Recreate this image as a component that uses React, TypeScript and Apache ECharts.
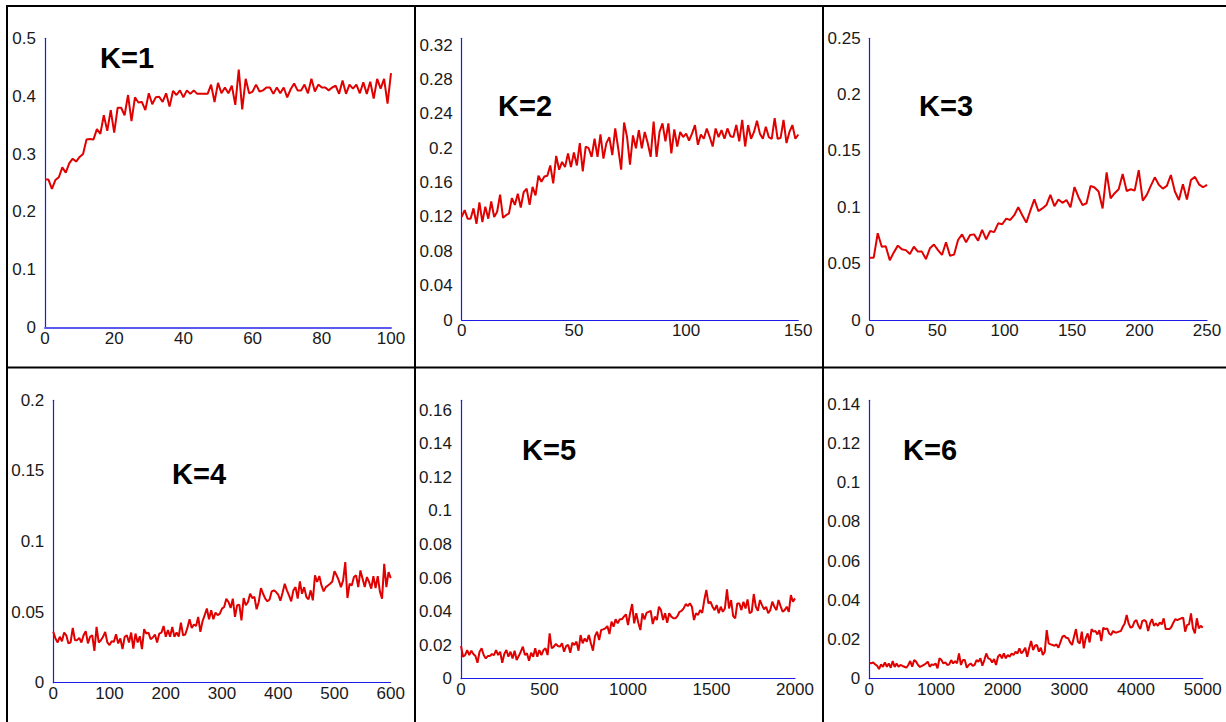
import React, { useEffect, useRef } from "react";
import * as echarts from "echarts";

// ---------- data ----------
const titles = ["K=1", "K=2", "K=3", "K=4", "K=5", "K=6"];
const xMaxes = [100, 150, 250, 600, 2000, 5000];
const xIntervals = [20, 50, 50, 100, 500, 1000];
const yMaxes = [0.5, 0.328, 0.25, 0.2, 0.166, 0.142];
const yIntervals = [0.1, 0.04, 0.05, 0.05, 0.02, 0.02];

const k1Values = [
  0.256, 0.256, 0.24, 0.255, 0.26, 0.277, 0.268, 0.284, 0.292, 0.287, 0.295,
  0.3, 0.325, 0.326, 0.325, 0.343, 0.335, 0.367, 0.34, 0.376, 0.337, 0.38,
  0.38, 0.367, 0.402, 0.357, 0.398, 0.389, 0.39, 0.376, 0.405, 0.386, 0.398,
  0.399, 0.39, 0.405, 0.382, 0.409, 0.402, 0.41, 0.398, 0.41, 0.404, 0.41,
  0.404, 0.404, 0.404, 0.404, 0.42, 0.39, 0.423, 0.405, 0.415, 0.405, 0.418,
  0.385, 0.446, 0.377, 0.43, 0.405, 0.408, 0.42, 0.408, 0.41, 0.415, 0.415,
  0.404, 0.415, 0.405, 0.415, 0.398, 0.412, 0.422, 0.41, 0.41, 0.42, 0.405,
  0.43, 0.408, 0.42, 0.415, 0.415, 0.41, 0.415, 0.418, 0.404, 0.427, 0.404,
  0.42, 0.413, 0.42, 0.405, 0.424, 0.404, 0.425, 0.396, 0.43, 0.413, 0.43,
  0.387, 0.44,
];

const k2Values = [
  0.12, 0.128, 0.118, 0.118, 0.13, 0.112, 0.137, 0.114, 0.132, 0.118, 0.138,
  0.12, 0.126, 0.146, 0.119, 0.122, 0.124, 0.142, 0.134, 0.147, 0.131, 0.149,
  0.153, 0.134, 0.155, 0.145, 0.168, 0.161, 0.167, 0.168, 0.18, 0.159, 0.191,
  0.175, 0.184, 0.178, 0.194, 0.178, 0.195, 0.18, 0.206, 0.173, 0.202, 0.2,
  0.19, 0.211, 0.19, 0.216, 0.188, 0.206, 0.213, 0.192, 0.223, 0.2, 0.175,
  0.23, 0.213, 0.181, 0.215, 0.2, 0.221, 0.2, 0.219, 0.206, 0.19, 0.231, 0.19,
  0.219, 0.229, 0.208, 0.229, 0.194, 0.222, 0.202, 0.219, 0.213, 0.217, 0.209,
  0.217, 0.227, 0.204, 0.216, 0.211, 0.223, 0.213, 0.202, 0.223, 0.213, 0.221,
  0.211, 0.223, 0.214, 0.213, 0.227, 0.208, 0.233, 0.202, 0.227, 0.211, 0.219,
  0.232, 0.217, 0.211, 0.225, 0.213, 0.211, 0.235, 0.211, 0.212, 0.233, 0.206,
  0.219, 0.227, 0.211, 0.216,
];

const k3Values = [
  0.0553, 0.0553, 0.077, 0.065, 0.0655, 0.053, 0.06, 0.066, 0.0627, 0.062,
  0.0586, 0.065, 0.0607, 0.0607, 0.054, 0.0636, 0.067, 0.062, 0.0577, 0.069,
  0.057, 0.058, 0.071, 0.076, 0.069, 0.0754, 0.076, 0.0704, 0.08, 0.0716,
  0.079, 0.078, 0.0858, 0.085, 0.09, 0.0888, 0.093, 0.1, 0.093, 0.0864, 0.097,
  0.107, 0.0967, 0.099, 0.102, 0.111, 0.101, 0.107, 0.104, 0.1065, 0.1, 0.118,
  0.109, 0.102, 0.1036, 0.119, 0.1176, 0.114, 0.099, 0.131, 0.108, 0.1125,
  0.116, 0.1296, 0.1145, 0.116, 0.115, 0.133, 0.106, 0.111, 0.119, 0.1266,
  0.12, 0.1166, 0.119, 0.1287, 0.114, 0.1065, 0.1204, 0.107, 0.1243, 0.127,
  0.1204, 0.1178, 0.12,
];

const k4Values = [
  0.036, 0.0313, 0.0285, 0.0325, 0.0294, 0.0355, 0.0336, 0.0278, 0.0285,
  0.0388, 0.0301, 0.0301, 0.0318, 0.0285, 0.0336, 0.0365, 0.0278, 0.0325,
  0.0336, 0.0226, 0.0395, 0.0285, 0.0301, 0.0325, 0.036, 0.0285, 0.0266,
  0.0294, 0.0289, 0.0343, 0.0278, 0.0313, 0.0238, 0.0325, 0.0336, 0.0285,
  0.0355, 0.0242, 0.0348, 0.0285, 0.0329, 0.0238, 0.0379, 0.0348, 0.0355,
  0.0308, 0.032, 0.0341, 0.0285, 0.0348, 0.0355, 0.0402, 0.0325, 0.0372,
  0.0325, 0.0395, 0.0325, 0.0355, 0.0327, 0.0426, 0.0336, 0.0341, 0.0388,
  0.0449, 0.0388, 0.0412, 0.0402, 0.0466, 0.036, 0.0435, 0.0478, 0.0525,
  0.0449, 0.0513, 0.0449, 0.0496, 0.0478, 0.0489, 0.0525, 0.0536, 0.0595,
  0.0572, 0.0529, 0.0595, 0.0466, 0.0548, 0.0553, 0.0442, 0.06, 0.0548,
  0.0572, 0.063, 0.06, 0.0607, 0.052, 0.0572, 0.067, 0.063, 0.0595, 0.0576,
  0.059, 0.0647, 0.0654, 0.0642, 0.0623, 0.0581, 0.0637, 0.0701, 0.0654,
  0.0619, 0.0576, 0.0654, 0.0677, 0.0595, 0.0717, 0.063, 0.0677, 0.0607,
  0.059, 0.0654, 0.0583, 0.076, 0.0713, 0.0755, 0.0689, 0.0647, 0.0677,
  0.0689, 0.0701, 0.0717, 0.079, 0.076, 0.0725, 0.0677, 0.0725, 0.0854, 0.06,
  0.0701, 0.0689, 0.0748, 0.076, 0.0677, 0.0795, 0.0736, 0.0677, 0.0748,
  0.0713, 0.0666, 0.0755, 0.067, 0.0755, 0.0647, 0.0595, 0.0842, 0.0677,
  0.0783, 0.0741,
];

const k5Values = [
  0.0195, 0.0131, 0.0141, 0.0171, 0.0141, 0.0167, 0.0147, 0.0135, 0.0095,
  0.0161, 0.0181, 0.0141, 0.0121, 0.0135, 0.0135, 0.0147, 0.0141, 0.0171,
  0.0141, 0.0161, 0.0095, 0.0147, 0.0171, 0.0131, 0.0161, 0.0121, 0.0167,
  0.0111, 0.0135, 0.0161, 0.0191, 0.0141, 0.0151, 0.0107, 0.0155, 0.0131,
  0.0181, 0.0131, 0.0171, 0.0141, 0.0171, 0.0181, 0.0141, 0.027, 0.0181,
  0.0191, 0.0207, 0.0195, 0.0191, 0.0211, 0.0161, 0.0195, 0.0201, 0.0155,
  0.0215, 0.0201, 0.0221, 0.0167, 0.026, 0.0211, 0.024, 0.0221, 0.026, 0.0211,
  0.0167, 0.0254, 0.028, 0.0231, 0.029, 0.0294, 0.03, 0.0314, 0.0266, 0.034,
  0.031, 0.0354, 0.033, 0.0354, 0.0354, 0.037, 0.0384, 0.032, 0.039, 0.0445,
  0.033, 0.039, 0.0334, 0.029, 0.039, 0.0354, 0.0393, 0.0399, 0.0405, 0.0326,
  0.037, 0.035, 0.0429, 0.0409, 0.035, 0.039, 0.0334, 0.039, 0.037, 0.036,
  0.036, 0.0374, 0.0399, 0.0405, 0.0419, 0.0445, 0.0433, 0.0449, 0.0429, 0.035,
  0.039, 0.038, 0.0409, 0.0393, 0.0469, 0.0529, 0.0449, 0.0459, 0.0429,
  0.0409, 0.0439, 0.039, 0.0429, 0.0399, 0.0419, 0.0533, 0.0419, 0.0469,
  0.0374, 0.036, 0.0449, 0.0449, 0.0409, 0.0459, 0.0419, 0.0473, 0.039,
  0.0399, 0.0505, 0.0429, 0.0405, 0.0469, 0.0439, 0.0413, 0.0429, 0.039,
  0.0409, 0.0459, 0.0429, 0.0409, 0.0469, 0.0433, 0.0399, 0.0409, 0.0429,
  0.0399, 0.0499, 0.0459, 0.0479,
];

const k6Values = [
  0.0082, 0.0078, 0.0083, 0.0073, 0.0066, 0.0049, 0.0073, 0.0061, 0.0083,
  0.0061, 0.0078, 0.0056, 0.009, 0.006, 0.0078, 0.0061, 0.007, 0.0065, 0.0061,
  0.0056, 0.007, 0.009, 0.0061, 0.0095, 0.0087, 0.007, 0.006, 0.0065, 0.007,
  0.0078, 0.0087, 0.0061, 0.0073, 0.007, 0.0078, 0.0053, 0.0104, 0.0095,
  0.0078, 0.0083, 0.007, 0.0073, 0.0095, 0.0078, 0.009, 0.0078, 0.0129, 0.007,
  0.0095, 0.0095, 0.0056, 0.007, 0.0078, 0.0066, 0.007, 0.0095, 0.0087,
  0.0104, 0.0066, 0.0095, 0.0129, 0.0104, 0.01, 0.0083, 0.01, 0.007, 0.0112,
  0.0124, 0.0104, 0.0129, 0.0104, 0.0121, 0.0112, 0.0129, 0.0121, 0.0138,
  0.0129, 0.0155, 0.0129, 0.0141, 0.0158, 0.0112, 0.0155, 0.0192, 0.0146,
  0.0168, 0.0172, 0.0138, 0.0158, 0.0121, 0.0138, 0.0248, 0.018, 0.0175,
  0.0172, 0.0168, 0.0175, 0.0158, 0.0185, 0.0214, 0.0219, 0.0209, 0.0206,
  0.0185, 0.0172, 0.0214, 0.0253, 0.0189, 0.018, 0.024, 0.0155, 0.0206,
  0.0231, 0.0185, 0.0253, 0.024, 0.0243, 0.0226, 0.0248, 0.0192, 0.026,
  0.0253, 0.0257, 0.0231, 0.0223, 0.0243, 0.0236, 0.0236, 0.024, 0.0243,
  0.0265, 0.0282, 0.0325, 0.0282, 0.026, 0.0265, 0.0291, 0.0299, 0.027,
  0.0253, 0.0294, 0.0299, 0.0291, 0.0243, 0.0282, 0.0304, 0.027, 0.0282,
  0.027, 0.0287, 0.0277, 0.0308, 0.0253, 0.0253, 0.0253, 0.0265, 0.0287,
  0.0304, 0.0299, 0.0304, 0.0308, 0.0311, 0.024, 0.0274, 0.0277, 0.0333,
  0.0257, 0.0231, 0.0308, 0.0257, 0.027, 0.026,
];

const seriesValues = [k1Values, k2Values, k3Values, k4Values, k5Values, k6Values];

// ---------- layout (page pixels) ----------
const gridBoxes = [
  { left: 45, top: 38.3, width: 346, height: 289.4 },
  { left: 461.7, top: 38.3, width: 336.6, height: 281.7 },
  { left: 869.7, top: 38.3, width: 337.3, height: 281.7 },
  { left: 53.3, top: 400.3, width: 337.4, height: 282.4 },
  { left: 461, top: 400.3, width: 334, height: 278.4 },
  { left: 869.3, top: 400.3, width: 333.4, height: 278.4 },
];
const titlePos = [
  [100, 58],
  [498, 106],
  [919, 106],
  [172, 474],
  [522, 450],
  [903, 450],
];

const FONT = "'Liberation Sans', Arial, sans-serif";
const AXIS_BLUE = "#1c1ce6";
const LINE_RED = "#e00000";
const LABEL_SIZE = 17;

function buildOption() {
  const grid = gridBoxes.map((g) => ({ ...g, containLabel: false }));
  const xAxis = xMaxes.map((xMax, i) => ({
    type: "value",
    gridIndex: i,
    min: 0,
    max: xMax,
    interval: xIntervals[i],
    axisLine: { show: true, onZero: false, lineStyle: { color: i === 0 ? "#5a5aee" : AXIS_BLUE, width: i === 0 ? 2 : 1.2 } },
    axisTick: { show: false },
    splitLine: { show: false },
    axisLabel: {
      color: "#1a1a1a",
      fontSize: LABEL_SIZE,
      fontFamily: FONT,
      margin: 2,
      formatter: (v: number) => String(v),
    },
  }));
  const yAxis = yMaxes.map((yMax, i) => {
    const iv = yIntervals[i];
    return {
      type: "value",
      gridIndex: i,
      min: 0,
      max: yMax,
      interval: iv,
      axisLine: { show: true, lineStyle: { color: AXIS_BLUE, width: 1.2 } },
      axisTick: { show: false },
      splitLine: { show: false },
      axisLabel: {
        color: "#1a1a1a",
        fontSize: LABEL_SIZE,
        fontFamily: FONT,
        margin: 9,
        showMaxLabel: true,
        formatter: (v: number) => {
          const r = v / iv;
          if (Math.abs(r - Math.round(r)) > 1e-6) return "";
          return String(parseFloat(v.toFixed(4)));
        },
      },
    };
  });
  const series = seriesValues.map((vals, i) => ({
    type: "line",
    xAxisIndex: i,
    yAxisIndex: i,
    showSymbol: false,
    symbol: "none",
    lineStyle: { color: LINE_RED, width: 2 },
    data: vals.map((v, j) => [(j * xMaxes[i]) / (vals.length - 1), v]),
  }));

  const borderStyle = { stroke: "#000", lineWidth: 2 };
  const graphic: any[] = [
    { type: "line", shape: { x1: 6, y1: 6, x2: 1226, y2: 6 }, style: borderStyle },
    { type: "line", shape: { x1: 7, y1: 5, x2: 7, y2: 722 }, style: borderStyle },
    { type: "line", shape: { x1: 415, y1: 5, x2: 415, y2: 722 }, style: borderStyle },
    { type: "line", shape: { x1: 823, y1: 5, x2: 823, y2: 722 }, style: borderStyle },
    { type: "line", shape: { x1: 6, y1: 367.5, x2: 1226, y2: 367.5 }, style: borderStyle },
  ];
  titles.forEach((t, i) => {
    graphic.push({
      type: "text",
      x: titlePos[i][0],
      y: titlePos[i][1],
      style: {
        text: t,
        fill: "#000",
        font: `bold 29px ${FONT}`,
        textAlign: "left",
        textVerticalAlign: "middle",
      },
    });
  });

  return {
    animation: false,
    backgroundColor: "#fff",
    grid,
    xAxis,
    yAxis,
    series,
    graphic,
  };
}

export default function App() {
  const ref = useRef<HTMLDivElement>(null);
  useEffect(() => {
    document.body.style.margin = "0";
    if (!ref.current) return;
    const chart = echarts.init(ref.current, undefined, { renderer: "svg" });
    chart.setOption(buildOption() as any);
    return () => chart.dispose();
  }, []);
  return <div ref={ref} style={{ width: 1226, height: 722 }} />;
}
